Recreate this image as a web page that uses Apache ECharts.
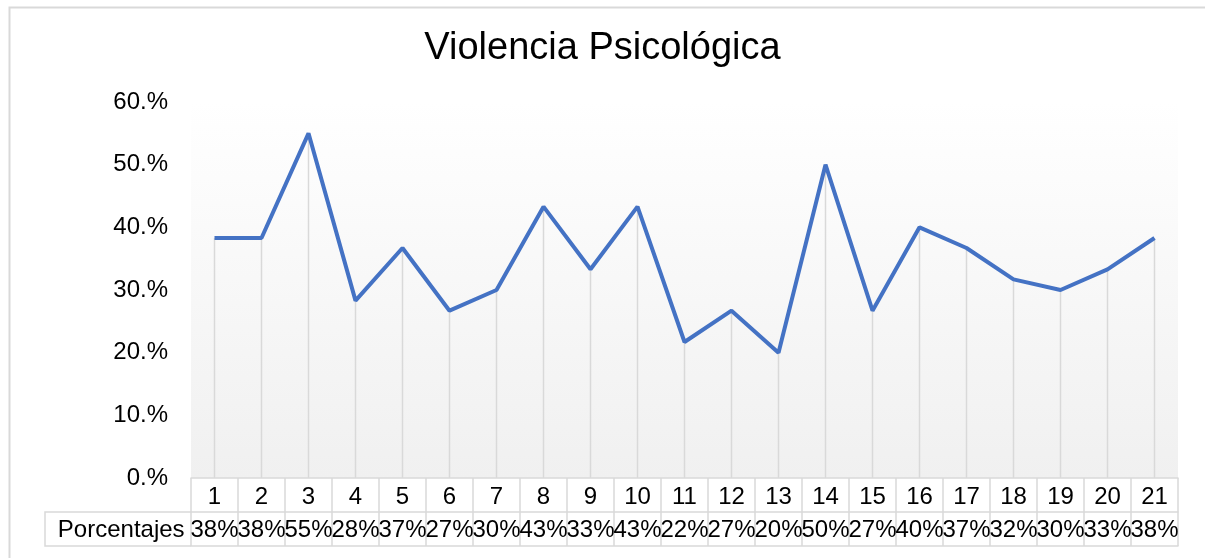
<!DOCTYPE html>
<html>
<head>
<meta charset="utf-8">
<script src="https://cdn.jsdelivr.net/npm/echarts@6/dist/echarts.min.js"></script>
<style>
    html, body { margin: 0; padding: 0; background: #fff; }
    #chart { width: 1205px; height: 558px; }
</style>
</head>
<body>
<div id="chart"></div>
<script>
// datos
const categories = ['1', '2', '3', '4', '5', '6', '7', '8', '9', '10', '11', '12', '13', '14', '15', '16', '17', '18', '19', '20', '21']
const porcentajes = [38.3, 38.3, 55, 28.3, 36.7, 26.7, 30, 43.3, 33.3, 43.3, 21.7, 26.7, 20, 50, 26.7, 40, 36.7, 31.7, 30, 33.3, 38.3]
const yTicks = [0, 10, 20, 30, 40, 50, 60]

const font = 'Liberation Sans, Arial, sans-serif'
const border = '#d9d9d9'

const chart = echarts.init(document.getElementById('chart'), null, { renderer: 'canvas' })
chart.setOption({
    animation: false,
    backgroundColor: '#fff',
    title: {
        text: 'Violencia Psicológica',
        left: 'center',
        top: 25,
        textStyle: { fontFamily: font, fontSize: 38, fontWeight: 'normal', color: '#000' }
    },
    grid: {
        left: 191,
        right: 27,
        top: 102,
        bottom: 80,
        show: true,
        borderWidth: 0,
        backgroundColor: {
            type: 'linear', x: 0, y: 0, x2: 0, y2: 1,
            colorStops: [
                { offset: 0, color: '#ffffff' },
                { offset: 1, color: '#f0f0f0' }
            ]
        }
    },
    xAxis: [
        {
            type: 'category',
            data: categories,
            boundaryGap: true,
            axisLine: { lineStyle: { color: border, width: 1.5 } },
            axisTick: { show: true, interval: 0, length: 34, lineStyle: { color: border, width: 1.5 } },
            axisLabel: { interval: 0, margin: 7, fontFamily: font, fontSize: 24, color: '#000' }
        },
        {
            type: 'category',
            data: porcentajes.map(v => Math.round(v) + '%'),
            position: 'bottom',
            offset: 34,
            boundaryGap: true,
            name: 'Porcentajes',
            nameLocation: 'start',
            nameGap: 6,
            nameTextStyle: { fontFamily: font, fontSize: 24, color: '#000', verticalAlign: 'top', padding: [6, 0, 0, 0] },
            axisLine: { lineStyle: { color: border, width: 1.5 } },
            axisTick: { show: true, interval: 0, length: 34, lineStyle: { color: border, width: 1.5 } },
            axisLabel: { interval: 0, margin: 6, fontFamily: font, fontSize: 24, color: '#000' }
        },
        {
            type: 'category',
            data: categories,
            position: 'bottom',
            offset: 68,
            axisLine: { lineStyle: { color: border, width: 1.5 } },
            axisTick: { show: false },
            axisLabel: { show: false }
        }
    ],
    yAxis: {
        type: 'value',
        min: 0,
        max: 60,
        interval: 10,
        axisLine: { show: false },
        axisTick: { show: false },
        splitLine: { show: false },
        axisLabel: {
            margin: 23,
            fontFamily: font,
            fontSize: 24,
            color: '#000',
            formatter: v => yTicks.includes(v) ? v + '.%' : ''
        }
    },
    graphic: [
        {
            type: 'rect',
            left: 7, top: 5,
            shape: { width: 1210, height: 570 },
            style: { fill: 'none', stroke: border, lineWidth: 2 },
            silent: true
        },
        {
            type: 'polyline',
            shape: { points: [[191, 512], [45, 512], [45, 546], [191, 546]] },
            style: { fill: 'none', stroke: border, lineWidth: 1.5 },
            silent: true
        }
    ],
    series: [
        {
            // lineas de caida
            type: 'bar',
            data: porcentajes,
            barWidth: 1.5,
            itemStyle: { color: border },
            z: 1
        },
        {
            name: 'Porcentajes',
            type: 'line',
            data: porcentajes,
            symbol: 'none',
            lineStyle: { color: '#4472c4', width: 4 },
            z: 3
        }
    ]
})
</script>
</body>
</html>
